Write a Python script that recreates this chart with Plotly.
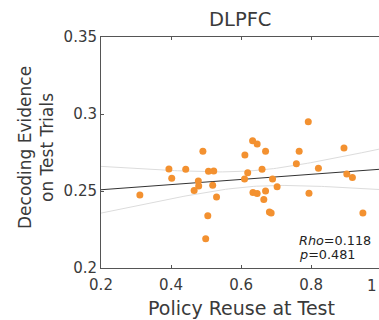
import numpy as np
import plotly.graph_objects as go

# Data
policy_reuse = [0.311, 0.394, 0.402, 0.442, 0.491, 0.466, 0.478, 0.479, 0.499, 0.505,
                0.507, 0.522, 0.519, 0.530, 0.611, 0.619, 0.610, 0.633, 0.646, 0.670,
                0.660, 0.634, 0.646, 0.670, 0.665, 0.681, 0.686, 0.690, 0.703, 0.758,
                0.766, 0.792, 0.821, 0.794, 0.894, 0.902, 0.918, 0.948]
decoding_evidence = [0.2474, 0.2643, 0.2582, 0.2641, 0.2758, 0.2504, 0.2565, 0.2532, 0.2190, 0.2340,
                     0.2628, 0.2630, 0.2537, 0.2461, 0.2734, 0.2619, 0.2578, 0.2827, 0.2805, 0.2758,
                     0.2641, 0.2491, 0.2483, 0.2500, 0.2444, 0.2363, 0.2357, 0.2578, 0.2528, 0.2677,
                     0.2758, 0.2950, 0.2647, 0.2485, 0.2779, 0.2610, 0.2587, 0.2357]
x_ticks = [0.2, 0.4, 0.6, 0.8, 1.0]
x_tick_labels = ["0.2", "0.4", "0.6", "0.8", "1"]
y_ticks = [0.2, 0.25, 0.3, 0.35]
y_tick_labels = ["0.2", "0.25", "0.3", "0.35"]
stat_rho = "0.118"
stat_p = "0.481"
t_crit = 2.028

x = np.array(policy_reuse)
y = np.array(decoding_evidence)
n = len(x)
b1, b0 = np.polyfit(x, y, 1)
xs = np.linspace(0.2, 1.0, 100)
yhat = b0 + b1 * xs
resid = y - (b0 + b1 * x)
s = np.sqrt(np.sum(resid ** 2) / (n - 2))
sxx = np.sum((x - x.mean()) ** 2)
se = s * np.sqrt(1.0 / n + (xs - x.mean()) ** 2 / sxx)
upper = yhat + t_crit * se
lower = yhat - t_crit * se

FONT = "DejaVu Sans, Liberation Sans, Arial, sans-serif"
TXT = "#3a3a3a"
AX = "#555555"

fig = go.Figure()
fig.add_trace(go.Scatter(x=xs, y=upper, mode="lines", line=dict(color="#dcdcdc", width=1), hoverinfo="skip"))
fig.add_trace(go.Scatter(x=xs, y=lower, mode="lines", line=dict(color="#dcdcdc", width=1), hoverinfo="skip"))
fig.add_trace(go.Scatter(x=xs, y=yhat, mode="lines", line=dict(color="#333333", width=1), hoverinfo="skip"))
fig.add_trace(go.Scatter(x=policy_reuse, y=decoding_evidence, mode="markers",
                         marker=dict(color="#F39130", size=7, line=dict(width=0))))

fig.update_layout(
    width=379, height=320,
    margin=dict(l=101, r=0, t=37, b=52),
    plot_bgcolor="white", paper_bgcolor="white",
    showlegend=False,
    font=dict(family=FONT, color=TXT, size=15),
    xaxis=dict(range=[0.2, 0.994], tickvals=x_ticks, ticktext=x_tick_labels,
               showgrid=False, zeroline=False, showline=True, linecolor=AX, linewidth=1,
               mirror="ticks", ticks="inside", ticklen=3, tickcolor=AX,
               ticklabelstandoff=3,
               tickfont=dict(size=15, color=TXT)),
    yaxis=dict(range=[0.2, 0.35], tickvals=y_ticks, ticktext=y_tick_labels,
               showgrid=False, zeroline=False, showline=True, linecolor=AX, linewidth=1,
               mirror=False, ticks="inside", ticklen=3, tickcolor=AX,
               tickfont=dict(size=15, color=TXT)),
)

fig.add_annotation(text="DLPFC", xref="paper", yref="paper", x=(240 - 101) / 278, y=(268 - 19.5) / 231,
                   showarrow=False, font=dict(size=19.5, color=TXT), xanchor="center", yanchor="middle")
fig.add_annotation(text="Policy Reuse at Test", xref="paper", yref="paper", x=(241 - 101) / 278,
                   y=(268 - 308) / 231,
                   showarrow=False, font=dict(size=19, color=TXT), xanchor="center", yanchor="middle")
fig.add_annotation(text="Decoding Evidence<br>on Test Trials", xref="paper", yref="paper",
                   x=(36 - 101) / 278, y=(268 - 148) / 231, textangle=-90, showarrow=False,
                   font=dict(size=17, color=TXT), xanchor="center", yanchor="middle")
fig.add_annotation(text=x_tick_labels[-1], xref="paper", yref="paper",
                   x=1.0, y=(268 - 286) / 231, showarrow=False,
                   font=dict(size=15, color=TXT), xanchor="right", yanchor="middle")
fig.add_annotation(text="<i>Rho</i>=" + stat_rho, xref="paper", yref="paper",
                   x=(297 - 101) / 278, y=(268 - 240) / 231, showarrow=False,
                   font=dict(size=12.8, color="#222222"), xanchor="left", yanchor="middle")
fig.add_annotation(text="<i>p</i>=" + stat_p, xref="paper", yref="paper",
                   x=(297 - 101) / 278, y=(268 - 254) / 231, showarrow=False,
                   font=dict(size=12.8, color="#222222"), xanchor="left", yanchor="middle")

fig.write_html("out.html", config={"displayModeBar": False},
               post_script="document.body.style.margin='0';document.body.style.overflow='hidden';")
